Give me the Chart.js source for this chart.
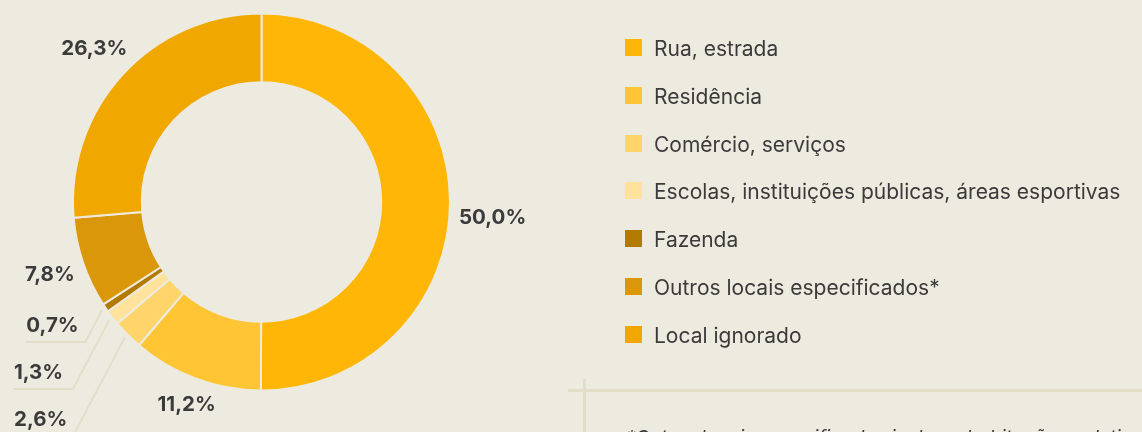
<!DOCTYPE html>
<html lang="pt">
<head>
    <meta charset="UTF-8">
    <title>Local de ocorrência</title>
    <script src="https://cdn.jsdelivr.net/npm/chart.js"></script>
    <style>
        html, body { margin: 0; padding: 0; }
        body { width: 1142px; height: 432px; overflow: hidden; background: #edebe0; font-family: Inter, sans-serif; color: #3b3b3b; position: relative; }
        #wrap { position: absolute; left: 0; top: 0; width: 1142px; height: 432px; }
        #legend { position: absolute; left: 625px; top: 39px; margin: 0; padding: 0; list-style: none; }
        #legend li { height: 47.8px; display: flex; align-items: flex-start; font-size: 21px; white-space: nowrap; }
        #legend .box { width: 17px; height: 17px; margin-right: 12px; flex: none; }
        #legend .txt { line-height: 17px; position: relative; top: 1px; }
        .hline { position: absolute; left: 568px; top: 389px; width: 574px; height: 3px; background: #e2dec7; }
        .vline { position: absolute; left: 583px; top: 379px; width: 3px; height: 60px; background: #e2dec7; }
        .note { position: absolute; left: 626px; top: 426px; font-size: 19px; font-style: italic; white-space: nowrap; }
    </style>
</head>
<body>
    <div id="wrap"><canvas id="pie"></canvas></div>
    <ul id="legend"></ul>
    <div class="hline"></div>
    <div class="vline"></div>
    <div class="note">*Outros locais especificados incluem habitações coletivas, áreas de lazer e outros</div>

    <script>
        // data (percent of cases)
        const categories = ['Rua, estrada', 'Residência', 'Comércio, serviços',
            'Escolas, instituições públicas, áreas esportivas', 'Fazenda',
            'Outros locais especificados*', 'Local ignorado'];
        const shares = [50.0, 11.2, 2.6, 1.3, 0.7, 7.8, 26.3];
        const colors = ['#ffb606', '#ffc534', '#ffd56b', '#ffe29b', '#b37a00', '#da970a', '#f0a800'];

        const bg = '#edebe0';
        const lineColor = '#e2dec7';
        const fmt = v => v.toFixed(1).replace('.', ',') + '%';

        // legend
        const legend = document.getElementById('legend');
        categories.forEach((c, i) => {
            const li = document.createElement('li');
            li.innerHTML = '<span class="box" style="background:' + colors[i] + '"></span><span class="txt">' + c + '</span>';
            legend.appendChild(li);
        });

        // percentage labels, with leader lines for the thin slices
        const labelPlugin = {
            id: 'sliceLabels',
            afterDatasetsDraw(chart) {
                const ctx = chart.ctx;
                const arcs = chart.getDatasetMeta(0).data;
                ctx.save();
                ctx.font = '700 20.5px Inter';
                ctx.fillStyle = '#3b3b3b';
                ctx.textAlign = 'center';
                ctx.textBaseline = 'middle';
                let level = 0;
                // walk small slices from the "Outros" side so the first one sits highest
                const order = arcs.map((a, i) => i).reverse();
                order.forEach(i => {
                    const a = arcs[i];
                    const mid = (a.startAngle + a.endAngle) / 2;
                    const dx = Math.cos(mid), dy = Math.sin(mid);
                    const txt = fmt(shares[i]);
                    const w = ctx.measureText(txt).width;
                    if (shares[i] >= 5) {
                        const r = a.outerRadius + 9 + Math.abs(dx) * w / 2 + Math.abs(dy) * 8;
                        // labels on the right hang a bit lower
                        const drop = dx > 0.9 ? 14 : 0;
                        ctx.fillText(txt, a.x + dx * r, a.y + dy * r + 1 + drop);
                    } else {
                        const sx = a.x + dx * (a.outerRadius + 4);
                        const sy = a.y + dy * (a.outerRadius + 4);
                        const ky = a.y + 140 + level * 47;
                        const kx = sx - (ky - sy) / 1.9;
                        const ex = kx - 60;
                        ctx.strokeStyle = lineColor;
                        ctx.lineWidth = 2;
                        ctx.beginPath();
                        ctx.moveTo(sx, sy);
                        ctx.lineTo(kx, ky);
                        ctx.lineTo(ex, ky);
                        ctx.stroke();
                        ctx.textAlign = 'left';
                        ctx.fillText(txt, ex + 1, ky - 16);
                        ctx.textAlign = 'center';
                        level++;
                    }
                });
                ctx.restore();
            }
        };

        new Chart(document.getElementById('pie'), {
            type: 'doughnut',
            data: {
                labels: categories,
                datasets: [{
                    data: shares,
                    backgroundColor: colors,
                    borderColor: bg,
                    borderWidth: 2
                }]
            },
            options: {
                responsive: true,
                maintainAspectRatio: false,
                animation: false,
                cutout: '63.5%',
                layout: { padding: { left: 72, right: 691, top: 12, bottom: 40 } },
                plugins: {
                    legend: { display: false },
                    tooltip: { enabled: false }
                }
            },
            plugins: [labelPlugin]
        });
    </script>
</body>
</html>
